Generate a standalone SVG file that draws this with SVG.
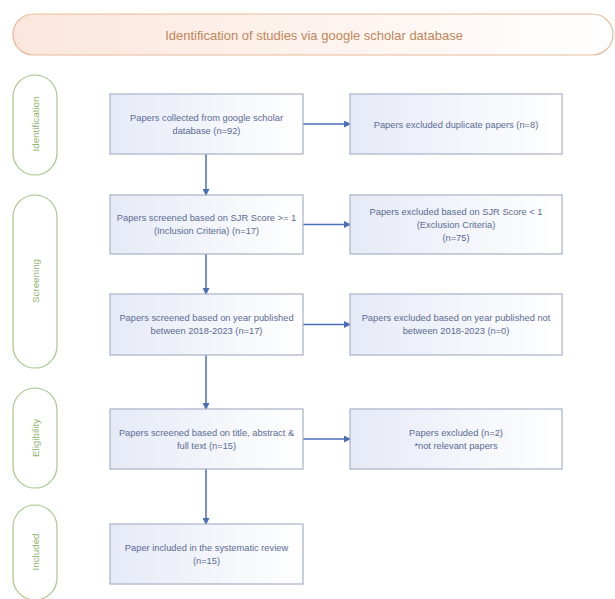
<svg xmlns="http://www.w3.org/2000/svg" width="615" height="599" viewBox="0 0 615 599">
<defs>
<linearGradient id="gBox" x1="0" y1="0" x2="1" y2="0">
<stop offset="0" stop-color="#e6eaf6"/>
<stop offset="1" stop-color="#ffffff"/>
</linearGradient>
<linearGradient id="gBan" x1="0" y1="0" x2="1" y2="0">
<stop offset="0" stop-color="#fbe6dc"/>
<stop offset="1" stop-color="#ffffff"/>
</linearGradient>
<marker id="ah" markerWidth="7" markerHeight="7" refX="6" refY="3.5" orient="auto" markerUnits="userSpaceOnUse">
<path d="M0,0 L7,3.5 L0,7 z" fill="#4a6fb8"/>
</marker>
<style>
.box{fill:url(#gBox);stroke:#a9b1c9;stroke-width:1.2}
.t{font-family:"Liberation Sans",Arial,sans-serif;font-size:9.3px;fill:#5a6b94;text-anchor:middle;dominant-baseline:central}
.pill{fill:#ffffff;stroke:#a8c68a;stroke-width:1.2}
.pt{font-family:"Liberation Sans",Arial,sans-serif;font-size:9.8px;fill:#8db46c;text-anchor:middle;dominant-baseline:central}
.c{stroke:#4a6fb8;stroke-width:1.5;fill:none;marker-end:url(#ah)}
</style>
</defs>
<rect width="615" height="599" fill="#ffffff"/>
<g id="banner">
<rect x="13" y="14" width="600" height="41" rx="20.5" fill="url(#gBan)" stroke="#e8b999" stroke-width="1.2"/>
<text x="314" y="35" style="font-family:'Liberation Sans',Arial,sans-serif;font-size:13px;fill:#c2865a;text-anchor:middle;dominant-baseline:central">Identification of studies via google scholar database</text>
</g>
<g id="phase-identification">
<rect class="pill" x="13" y="75" width="44" height="100" rx="22"/>
<text class="pt" transform="translate(35,124) rotate(-90)">Identification</text>
</g>
<g id="phase-screening">
<rect class="pill" x="13" y="195" width="44" height="173" rx="22"/>
<text class="pt" transform="translate(35,281) rotate(-90)">Screening</text>
</g>
<g id="phase-eligibility">
<rect class="pill" x="13" y="388" width="44" height="100" rx="22"/>
<text class="pt" transform="translate(35,438) rotate(-90)">Eligibility</text>
</g>
<g id="phase-included">
<rect class="pill" x="13" y="505" width="44" height="95" rx="22"/>
<text class="pt" transform="translate(35,552) rotate(-90)">Included</text>
</g>
<g id="connectors">
<line class="c" x1="206" y1="154" x2="206" y2="195"/>
<line class="c" x1="206" y1="254" x2="206" y2="294"/>
<line class="c" x1="206" y1="355" x2="206" y2="409"/>
<line class="c" x1="206" y1="469" x2="206" y2="524"/>
<line class="c" x1="303" y1="124" x2="350" y2="124"/>
<line class="c" x1="303" y1="224.5" x2="350" y2="224.5"/>
<line class="c" x1="303" y1="324.5" x2="350" y2="324.5"/>
<line class="c" x1="303" y1="439" x2="350" y2="439"/>
</g>
<g id="n1">
<rect class="box" x="110" y="94" width="193" height="60"/>
<text class="t" x="206.5" y="118">Papers collected from google scholar</text>
<text class="t" x="206.5" y="131">database (n=92)</text>
</g>
<g id="x1">
<rect class="box" x="350" y="94" width="212" height="60"/>
<text class="t" x="456" y="124.5">Papers excluded duplicate papers (n=8)</text>
</g>
<g id="n2">
<rect class="box" x="110" y="195" width="193" height="59"/>
<text class="t" x="206.5" y="218">Papers screened based on SJR Score &gt;= 1</text>
<text class="t" x="206.5" y="231">(Inclusion Criteria) (n=17)</text>
</g>
<g id="x2">
<rect class="box" x="350" y="195" width="212" height="59"/>
<text class="t" x="456" y="212">Papers excluded based on SJR Score &lt; 1</text>
<text class="t" x="456" y="225">(Exclusion Criteria)</text>
<text class="t" x="456" y="238">(n=75)</text>
</g>
<g id="n3">
<rect class="box" x="110" y="294" width="193" height="61"/>
<text class="t" x="206.5" y="318">Papers screened based on year published</text>
<text class="t" x="206.5" y="331">between 2018-2023 (n=17)</text>
</g>
<g id="x3">
<rect class="box" x="350" y="294" width="212" height="61"/>
<text class="t" x="456" y="318">Papers excluded based on year published not</text>
<text class="t" x="456" y="331">between 2018-2023 (n=0)</text>
</g>
<g id="n4">
<rect class="box" x="110" y="409" width="193" height="60"/>
<text class="t" x="206.5" y="433">Papers screened based on title, abstract &amp;</text>
<text class="t" x="206.5" y="446">full text (n=15)</text>
</g>
<g id="x4">
<rect class="box" x="350" y="409" width="212" height="60"/>
<text class="t" x="456" y="433">Papers excluded (n=2)</text>
<text class="t" x="456" y="446">*not relevant papers</text>
</g>
<g id="n5">
<rect class="box" x="110" y="524" width="193" height="60"/>
<text class="t" x="206.5" y="548">Paper included in the systematic review</text>
<text class="t" x="206.5" y="561">(n=15)</text>
</g>
</svg>
